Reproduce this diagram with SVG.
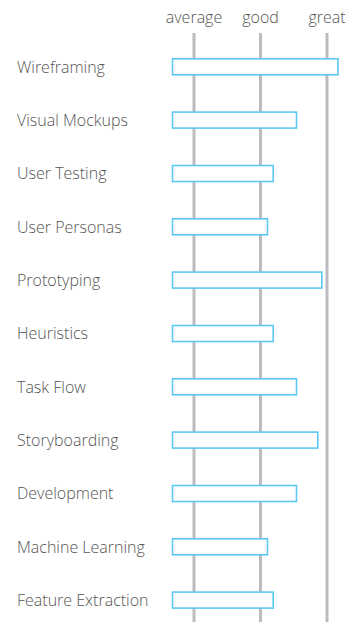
<svg xmlns="http://www.w3.org/2000/svg" width="360" height="622" viewBox="0 0 360 622">
<style>
.lbl{font-family:"Open Sans","Liberation Sans",sans-serif;font-weight:300;font-size:16px;fill:#555}
.hdr{font-family:"Open Sans","Liberation Sans",sans-serif;font-weight:300;font-size:16px;fill:#555;text-anchor:middle}
.axis{stroke:#bcbcc0;stroke-width:3}
.bar{fill:#fff;stroke:#5cc9f0;stroke-width:1.6}
</style>
<rect width="360" height="622" fill="#fff"/>
<g id="header">
<text class="hdr" x="194" y="23">average</text>
<text class="hdr" x="260.5" y="23">good</text>
<text class="hdr" x="327" y="23">great</text>
</g>
<g id="connectors">
<line class="axis" x1="194" y1="33" x2="194" y2="622"/>
<line class="axis" x1="260.5" y1="33" x2="260.5" y2="622"/>
<line class="axis" x1="327" y1="33" x2="327" y2="622"/>
</g>
<g id="wireframing"><text class="lbl" x="17" y="72.5">Wireframing</text><rect class="bar" x="172.5" y="58.8" width="165.5" height="16"/></g>
<g id="visual-mockups"><text class="lbl" x="17" y="125.8">Visual Mockups</text><rect class="bar" x="172.5" y="112.1" width="124" height="16"/></g>
<g id="user-testing"><text class="lbl" x="17" y="179.2">User Testing</text><rect class="bar" x="172.5" y="165.5" width="100.7" height="16"/></g>
<g id="user-personas"><text class="lbl" x="17" y="232.5">User Personas</text><rect class="bar" x="172.5" y="218.8" width="95" height="16"/></g>
<g id="prototyping"><text class="lbl" x="17" y="285.8">Prototyping</text><rect class="bar" x="172.5" y="272.1" width="149.3" height="16"/></g>
<g id="heuristics"><text class="lbl" x="17" y="339.2">Heuristics</text><rect class="bar" x="172.5" y="325.5" width="100.7" height="16"/></g>
<g id="task-flow"><text class="lbl" x="17" y="392.5">Task Flow</text><rect class="bar" x="172.5" y="378.8" width="124" height="16"/></g>
<g id="storyboarding"><text class="lbl" x="17" y="445.8">Storyboarding</text><rect class="bar" x="172.5" y="432.1" width="145.3" height="16"/></g>
<g id="development"><text class="lbl" x="17" y="499.2">Development</text><rect class="bar" x="172.5" y="485.5" width="124" height="16"/></g>
<g id="machine-learning"><text class="lbl" x="17" y="552.5">Machine Learning</text><rect class="bar" x="172.5" y="538.8" width="95" height="16"/></g>
<g id="feature-extraction"><text class="lbl" x="17" y="605.8">Feature Extraction</text><rect class="bar" x="172.5" y="592.1" width="100.7" height="16"/></g>
</svg>
